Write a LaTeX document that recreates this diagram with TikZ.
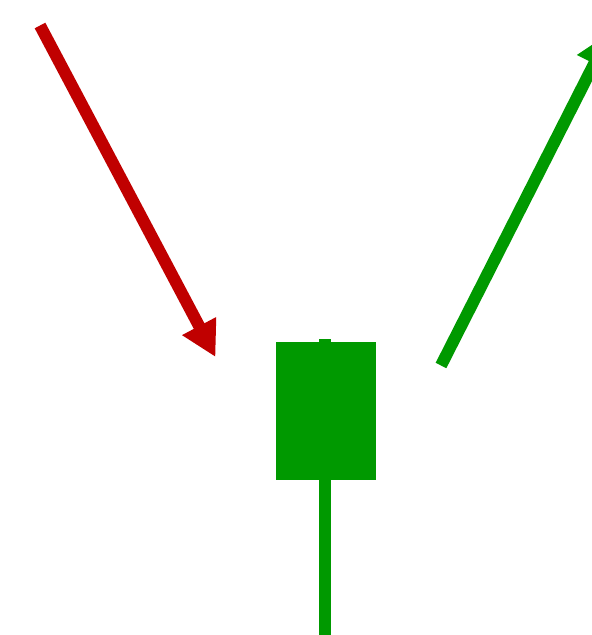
\documentclass[tikz,border=0pt]{standalone}
\usepackage{xcolor}
\usepackage{tikz}
\usetikzlibrary{arrows.meta, positioning}
\definecolor{bearred}{RGB}{192,0,0}
\definecolor{bullgreen}{RGB}{0,153,0}

\begin{document}
\begin{tikzpicture}[x=1pt, y=-1pt,
  candle/.style={rectangle, fill=bullgreen, minimum width=100pt, minimum height=138pt, inner sep=0pt},
  wick/.style={draw=bullgreen, line width=12pt},
  trend/.style={line width=12pt, -{Triangle[length=35pt, width=36pt]}}]
  \clip (0,0) rectangle (592,635);
  % Wick
  \coordinate (wickTop) at (325.3,339);
  \coordinate (wickBot) at (325.3,645);
  \draw[wick] (wickTop) -- (wickBot);
  % Candle body
  \node[candle] (body) at (325.5,411) {};
  % Trend arrows
  \coordinate (downStart) at (40,25.5);
  \coordinate (downEnd) at (215.5,357);
  \coordinate (upStart) at (441,365.5);
  \coordinate (upEnd) at (610,32.5);
  \draw[trend, bearred] (downStart) -- (downEnd);
  \draw[trend, bullgreen] (upStart) -- (upEnd);
\end{tikzpicture}
\end{document}
